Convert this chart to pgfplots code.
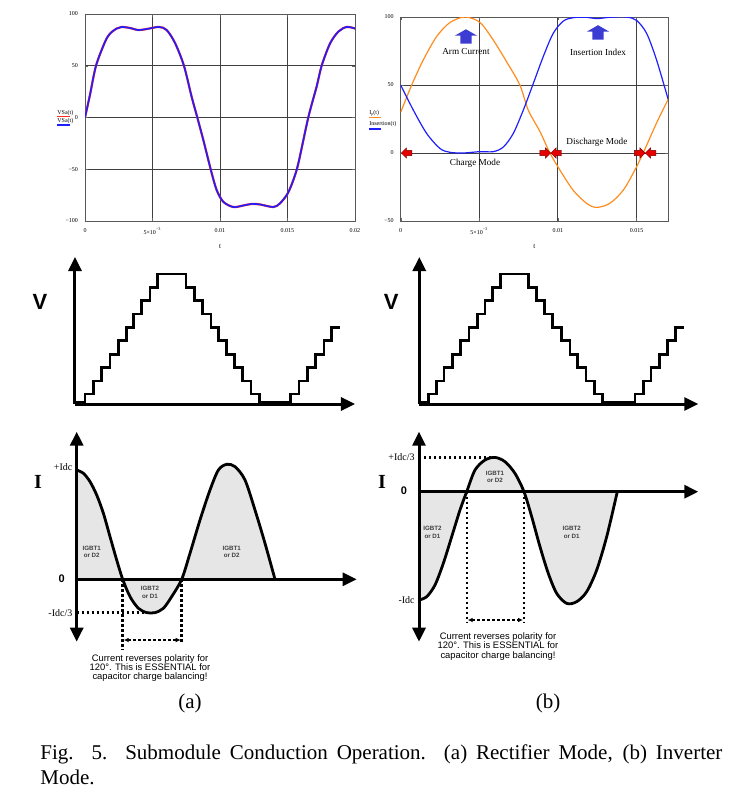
\documentclass[border=0pt]{standalone}
\usepackage{pgfplots}
\pgfplotsset{compat=1.18}
\usepackage{fontspec}
\setmainfont{Liberation Serif}
\setsansfont{Liberation Sans}
\newfontfamily\capfont{Liberation Serif}
\usetikzlibrary{arrows.meta,shapes.arrows}

\definecolor{mcblue}{RGB}{30,30,255}
\definecolor{mcred}{RGB}{255,40,40}
\definecolor{mcorange}{RGB}{255,140,30}
\definecolor{arrowblue}{RGB}{60,60,210}
\definecolor{fillgray}{RGB}{230,230,230}

\tikzset{
  dotline/.style={line width=1.2pt, dash pattern=on 1.2pt off 1.3pt},
  uparrow/.style={single arrow, shape border rotate=90, fill=arrowblue, draw=none,
    minimum height=6.5pt, inner sep=2.6pt, single arrow head extend=2.8pt,
    single arrow tip angle=120},
  redarrow/.style={single arrow, fill=red!90!black, draw=red!50!black, line width=0.2pt,
    minimum height=5.3pt, inner sep=1.2pt, single arrow head extend=1.3pt},
  note/.style={font=\fontsize{4.6}{5}\selectfont},
  igbt/.style={font=\sffamily\bfseries\fontsize{3.1}{3.8}\selectfont, text=black!75, align=center},
  small/.style={font=\fontsize{3}{3.5}\selectfont},
}

\pgfplotsset{
  mcad/.style={scale only axis, enlargelimits=false, axis line style={black!65},
    scaled ticks=false,
    grid=major, major grid style={black!75, line width=0.45pt},
    tick style={black!60}, major tick length=1.5pt,
    tick label style={font=\fontsize{3}{3}\selectfont},
    xlabel={t}, xlabel style={font=\fontsize{3.5}{4}\selectfont, yshift=2pt}},
  sketch/.style={scale only axis, enlargelimits=false, axis lines=middle,
    xtick=\empty, ytick=\empty, axis on top, clip=false,
    axis line style={line width=1.5pt},
    x axis line style={-{Triangle[length=7pt,width=6.5pt]}},
    y axis line style={-{Triangle[length=7pt,width=6.5pt]}}},
}

\begin{document}
\begin{tikzpicture}[x=0.5pt,y=-0.5pt]
\path[use as bounding box] (0,0) rectangle (738,800);

% ---- top left: VSa(t)
\begin{axis}[mcad, at={(42.5pt,-110.5pt)}, anchor=south west, width=135pt, height=103.5pt,
  xmin=0, xmax=0.02, ymin=-100, ymax=100,
  xtick={0,0.005,0.01,0.015,0.02}, xticklabels={0,5×10\textsuperscript{−3},0.01,0.015,0.02},
  ytick={-100,-50,0,50,100}, yticklabels={−100,−50,0,50,100}]
\addplot[mcred, line width=1.1pt, smooth] coordinates {
 (0,0) (0.00037,22) (0.000815,50) (0.00148,73) (0.00185,81) (0.00235,86) (0.00272,87.5)
 (0.00333,86.5) (0.00395,84.5) (0.00457,85.5) (0.00548,87.5) (0.00605,84.5) (0.00667,72)
 (0.00733,50) (0.0079,20) (0.00832,0) (0.00877,-22) (0.00931,-50) (0.00975,-70)
 (0.01025,-81.5) (0.01099,-86.5) (0.01173,-85) (0.01235,-83.5) (0.01296,-84) (0.01395,-86.5)
 (0.01444,-83) (0.01501,-73.5) (0.01543,-60.5) (0.0158,-44.5) (0.01654,0) (0.01716,30)
 (0.01753,50) (0.01815,71.5) (0.01877,83) (0.01938,87.5) (0.02,86)};
\addplot[mcblue, line width=0.8pt, smooth] coordinates {
 (0,0) (0.00037,22) (0.000815,50) (0.00148,73) (0.00185,81) (0.00235,86) (0.00272,87.5)
 (0.00333,86.5) (0.00395,84.5) (0.00457,85.5) (0.00548,87.5) (0.00605,84.5) (0.00667,72)
 (0.00733,50) (0.0079,20) (0.00832,0) (0.00877,-22) (0.00931,-50) (0.00975,-70)
 (0.01025,-81.5) (0.01099,-86.5) (0.01173,-85) (0.01235,-83.5) (0.01296,-84) (0.01395,-86.5)
 (0.01444,-83) (0.01501,-73.5) (0.01543,-60.5) (0.0158,-44.5) (0.01654,0) (0.01716,30)
 (0.01753,50) (0.01815,71.5) (0.01877,83) (0.01938,87.5) (0.02,86)};
\end{axis}
\node[small, anchor=west, inner sep=0pt] at (57,113.5) {VSa(t)};
\draw[mcred, line width=0.6pt] (57,116.5) -- (70,116.5);
\node[small, anchor=west, inner sep=0pt] at (57,121.5) {VSa(t)};
\draw[mcblue, line width=0.6pt] (57,125) -- (70,125);

% ---- top right: arm current and insertion index
\begin{axis}[mcad, at={(200.35pt,-110.5pt)}, anchor=south west, width=133.65pt, height=102pt,
  xmin=0, xmax=0.017, ymin=-50, ymax=100,
  xtick={0,0.005,0.01,0.015}, xticklabels={0,5×10\textsuperscript{−3},0.01,0.015},
  ytick={-50,0,50,100}, yticklabels={−50,0,50,100}]
\addplot[mcorange, line width=0.6pt, smooth] coordinates {
 (0,30) (0.0007,50) (0.00144,68.5) (0.00229,85.7) (0.00314,96) (0.00409,100) (0.00504,96)
 (0.00589,83) (0.00674,67) (0.00758,50) (0.00811,31.6) (0.00886,15.7) (0.00949,0)
 (0.01013,-12.6) (0.01097,-27.4) (0.01182,-37) (0.01246,-40) (0.0133,-37) (0.01415,-27.4)
 (0.01489,-12.6) (0.01542,0) (0.01627,22) (0.01701,39.5)};
\addplot[mcblue, line width=0.6pt, smooth] coordinates {
 (0,50) (0.0008,31.6) (0.00165,14.4) (0.0025,3.3) (0.00314,0.5) (0.00398,0) (0.00504,1)
 (0.00589,1) (0.00653,4.4) (0.00716,14.4) (0.0078,31.6) (0.00843,51) (0.00907,71)
 (0.0097,88) (0.01034,97) (0.01097,99.5) (0.01182,99.8) (0.01246,98.8) (0.0133,99.8)
 (0.01436,100) (0.015,97.5) (0.01564,88) (0.01627,68.5) (0.01701,39.5)};
\node[note] at (axis cs:0.00415,74.3) {Arm Current};
\node[note] at (axis cs:0.01255,74.3) {Insertion Index};
\node[uparrow] at (axis cs:0.00415,84.5) {};
\node[uparrow] at (axis cs:0.01255,87.5) {};
\node[note] at (axis cs:0.00473,-7.4) {Charge Mode};
\node[note] at (axis cs:0.01248,8.1) {Discharge Mode};
\node[redarrow, shape border rotate=180] at (axis cs:0.00046,0) {};
\node[redarrow] at (axis cs:0.00911,0) {};
\node[redarrow, shape border rotate=180] at (axis cs:0.00997,0) {};
\node[redarrow] at (axis cs:0.01512,0) {};
\node[redarrow, shape border rotate=180] at (axis cs:0.01598,0) {};
\end{axis}
\node[small, anchor=west, inner sep=0pt] at (369,113.5) {I\raisebox{-0.6pt}{\fontsize{2}{2}\selectfont p}(t)};
\draw[mcorange, line width=0.6pt] (369,117.5) -- (381,117.5);
\node[small, anchor=west, inner sep=0pt] at (369,124.5) {Insertion(t)};
\draw[mcblue, line width=0.6pt] (369,129) -- (381,129);

% ---- middle left: staircase voltage
\begin{axis}[sketch, at={(37.5pt,-202pt)}, anchor=south west, width=140pt, height=73.5pt,
  xmin=0, xmax=280, ymin=0, ymax=147]
\addplot[const plot, line width=1.4pt] coordinates {
 (0,2) (10,10) (18.3,23) (26.7,36.3) (35,49.7) (43.3,63.3) (51.7,76.7) (58.3,90) (66.7,103.3)
 (75,116.7) (82.7,130) (111,116.7) (119.3,103.3) (127.7,90) (136,76.7) (143.3,63.3)
 (151.7,49.7) (159.3,36.3) (167.7,23) (176,10) (184.3,2) (215.7,10) (224,23) (232.3,36.3)
 (240.7,49.7) (249,63.3) (256.7,76.7) (265,76.7)};
\node[font=\sffamily\bfseries\fontsize{11}{11}\selectfont] at (axis cs:-35,102) {V};
\end{axis}

% ---- middle right: staircase voltage
\begin{axis}[sketch, at={(209.65pt,-202pt)}, anchor=south west, width=139.5pt, height=73.5pt,
  xmin=0, xmax=279, ymin=0, ymax=147]
\addplot[const plot, line width=1.4pt] coordinates {
 (0,2) (9,10) (17.3,23) (24.7,36.3) (33,49.7) (41.3,63.3) (49.7,76.7) (58,90) (65.7,103.3)
 (73,116.7) (81.3,130) (109,116.7) (117.3,103.3) (125,90) (133.3,76.7) (142.3,63.3)
 (150.7,49.7) (158.3,36.3) (166.7,23) (175,10) (183.3,2) (215.7,10) (224,23) (231.7,36.3)
 (240,49.7) (248,63.3) (256.3,76.7) (264.7,76.7)};
\node[font=\sffamily\bfseries\fontsize{11}{11}\selectfont] at (axis cs:-28,102) {V};
\end{axis}

% ---- bottom left: rectifier mode current
\begin{axis}[sketch, y axis line style={{Triangle[length=7pt,width=6.5pt]}-{Triangle[length=7pt,width=6.5pt]}},
  at={(38.35pt,-320.85pt)}, anchor=south west, width=140pt, height=105pt,
  xmin=0, xmax=280, ymin=-62.4, ymax=147.6]
\addplot[smooth, fill=fillgray, draw=none] coordinates {
 (0,109.3) (6.7,106) (13.3,97.7) (20,84.3) (26.7,66) (33.3,42.7) (40,19.3) (46,0)
 (53.3,-17.3) (61.7,-29) (70,-33.3) (78.3,-33.3) (86.7,-29) (95,-17.3) (105,0) (113.3,26)
 (123.3,59.3) (133.3,89.3) (141.7,109.3) (150,115) (158.3,112.7) (168.3,99.3) (178.3,69.3)
 (188.3,36) (198.3,0)} \closedcycle;
\addplot[smooth, line width=1.4pt] coordinates {
 (0,109.3) (6.7,106) (13.3,97.7) (20,84.3) (26.7,66) (33.3,42.7) (40,19.3) (46,0)
 (53.3,-17.3) (61.7,-29) (70,-33.3) (78.3,-33.3) (86.7,-29) (95,-17.3) (105,0) (113.3,26)
 (123.3,59.3) (133.3,89.3) (141.7,109.3) (150,115) (158.3,112.7) (168.3,99.3) (178.3,69.3)
 (188.3,36) (198.3,0)};
\draw[dotline] (axis cs:0,-33.3) -- (axis cs:70,-33.3);
\draw[dotline] (axis cs:46,0) -- (axis cs:46,-70.7);
\draw[dotline] (axis cs:105,0) -- (axis cs:105,-64);
\draw[dotline, {Latex[length=2.5pt,width=2.4pt]}-{Latex[length=2.5pt,width=2.4pt]}]
  (axis cs:47,-60.7) -- (axis cs:104,-60.7);
\node[igbt] at (axis cs:15,27.3) {IGBT1\\or D2};
\node[igbt] at (axis cs:155,27.3) {IGBT1\\or D2};
\node[igbt] at (axis cs:73.3,-13.2) {IGBT2\\or D1};
\node[font=\fontsize{5}{5}\selectfont, anchor=east, inner sep=1pt] at (axis cs:-2,112.6) {+Idc};
\node[font=\bfseries\fontsize{10}{10}\selectfont] at (axis cs:-38.7,97.6) {I};
\node[font=\sffamily\bfseries\fontsize{5.5}{5.5}\selectfont, anchor=east] at (axis cs:-5,1) {0};
\node[font=\fontsize{5}{5}\selectfont, anchor=east, inner sep=1pt] at (axis cs:-2,-33.3) {-Idc/3};
\node[align=center, anchor=north, font=\sffamily\fontsize{4.7}{4.7}\selectfont]
  at (axis cs:73.3,-68) {Current reverses polarity for\\120°. This is ESSENTIAL for\\capacitor charge balancing!};
\end{axis}

% ---- bottom right: inverter mode current
\begin{axis}[sketch, y axis line style={{Triangle[length=7pt,width=6.5pt]}-{Triangle[length=7pt,width=6.5pt]}},
  at={(209.5pt,-320.85pt)}, anchor=south west, width=139.65pt, height=105pt,
  xmin=0, xmax=279.3, ymin=-150, ymax=60]
\addplot[smooth, fill=fillgray, draw=none] coordinates {
 (0,-108.3) (7.7,-105) (16,-93.3) (24.3,-71.7) (32.7,-45) (41,-18.3) (47.7,0) (56,21.7)
 (66,31.7) (76,34.3) (86,30) (96,18.3) (105,0) (112.7,-25) (121,-55) (129.3,-81.7)
 (137.7,-101.7) (147.7,-111.7) (157.7,-110) (167.7,-100) (177.7,-78.3) (187.7,-45) (198.3,0)} \closedcycle;
\addplot[smooth, line width=1.4pt] coordinates {
 (0,-108.3) (7.7,-105) (16,-93.3) (24.3,-71.7) (32.7,-45) (41,-18.3) (47.7,0) (56,21.7)
 (66,31.7) (76,34.3) (86,30) (96,18.3) (105,0) (112.7,-25) (121,-55) (129.3,-81.7)
 (137.7,-101.7) (147.7,-111.7) (157.7,-110) (167.7,-100) (177.7,-78.3) (187.7,-45) (198.3,0)};
\draw[dotline] (axis cs:0,34.3) -- (axis cs:76,34.3);
\draw[dotline] (axis cs:47.7,0) -- (axis cs:47.7,-131);
\draw[dotline] (axis cs:105,0) -- (axis cs:105,-131);
\draw[dotline, {Latex[length=2.5pt,width=2.4pt]}-{Latex[length=2.5pt,width=2.4pt]}]
  (axis cs:48.7,-128.3) -- (axis cs:104,-128.3);
\node[igbt] at (axis cs:76,14.7) {IGBT1\\or D2};
\node[igbt] at (axis cs:13.5,-40.8) {IGBT2\\or D1};
\node[igbt] at (axis cs:152.7,-40.8) {IGBT2\\or D1};
\node[font=\fontsize{5}{5}\selectfont, anchor=east, inner sep=1pt] at (axis cs:-2,34.7) {+Idc/3};
\node[font=\bfseries\fontsize{10}{10}\selectfont] at (axis cs:-37,9.7) {I};
\node[font=\sffamily\bfseries\fontsize{5.5}{5.5}\selectfont, anchor=east] at (axis cs:-5,1) {0};
\node[font=\fontsize{5}{5}\selectfont, anchor=east, inner sep=1pt] at (axis cs:-2,-108.3) {-Idc};
\node[align=center, anchor=north, font=\sffamily\fontsize{4.7}{4.7}\selectfont]
  at (axis cs:79,-134) {Current reverses polarity for\\120°. This is ESSENTIAL for\\capacitor charge balancing!};
\end{axis}

% ---- sub labels and caption
\node[font=\capfont\fontsize{10.5}{12}\selectfont] at (190,703) {(a)};
\node[font=\capfont\fontsize{10.5}{12}\selectfont] at (548,703) {(b)};
\node[anchor=north west, inner sep=0pt, text width=341pt, align=justify,
  font=\capfont\fontsize{10.5}{12.5}\selectfont] at (40,744)
  {Fig. 5. Submodule Conduction Operation. (a) Rectifier Mode, (b) Inverter\linebreak Mode.};
\end{tikzpicture}
\end{document}
